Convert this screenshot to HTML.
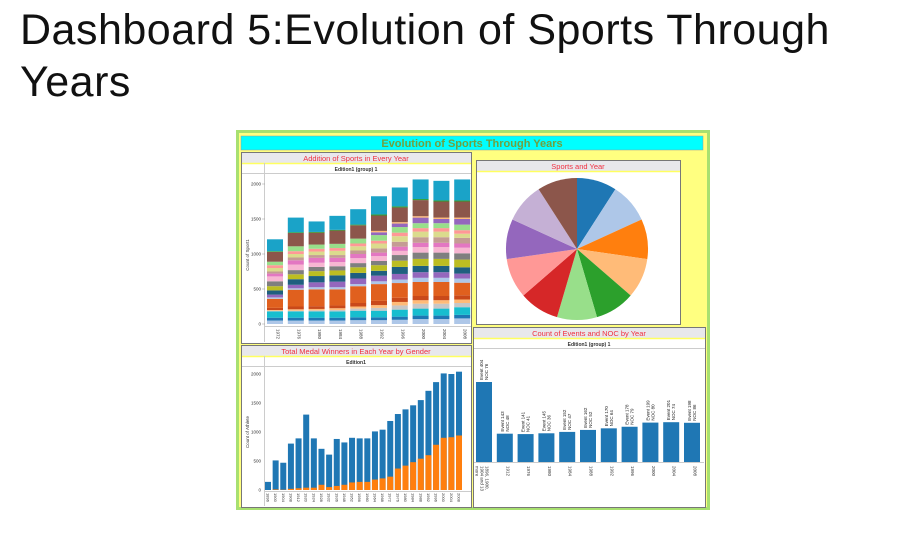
<!DOCTYPE html>
<html><head><meta charset="utf-8">
<style>
body{margin:0;background:#fff;width:919px;height:540px;overflow:hidden;font-family:"Liberation Sans",sans-serif}
#t{position:absolute;left:20px;top:4px;font-size:43px;line-height:52px;color:#111;font-weight:normal;letter-spacing:0.5px}
svg{position:absolute;left:0;top:0}
</style></head><body>
<div id="t">Dashboard 5:Evolution of Sports Through<br>Years</div>
<svg id="s" width="919" height="540"></svg>
<script>
// ---- data: stacked sports chart ----
const sportYears=[1972,1976,1980,1984,1988,1992,1996,2000,2004,2008];
const sportColors=["#aec7e8","#1f77b4","#17becf","#c7c7c7","#ffbb78","#c9491a","#e0601e","#aec7e8","#9467bd","#1f5f7f","#bcbd22","#7f7f7f","#f7b6d2","#e377c2","#c49c94","#dbdb8d","#ff9896","#98df8a","#9467bd","#ffbb78","#8c564b","#2ca02c","#1aa3c8"];
const sportSeries=[
[50,50,50,50,55,55,60,70,70,80],
[40,40,40,40,40,40,45,50,50,50],
[90,90,90,90,95,95,100,100,100,110],
[10,10,15,20,30,40,60,70,70,60],
[10,20,20,25,30,40,50,50,50,50],
[30,40,40,40,50,60,60,60,60,60],
[130,240,240,230,240,240,210,200,200,180],
[20,20,30,30,30,40,50,60,60,60],
[40,50,70,80,80,80,80,80,80,70],
[60,80,90,90,80,70,100,90,90,90],
[60,70,70,70,80,80,90,100,100,110],
[70,60,60,60,60,60,80,90,90,90],
[70,80,60,60,70,70,60,80,80,80],
[40,60,70,60,60,50,60,60,60,60],
[30,40,40,40,50,60,70,80,80,80],
[50,50,50,60,60,70,80,80,80,60],
[40,40,40,40,40,40,50,50,50,50],
[50,70,60,60,70,80,80,70,70,80],
[0,0,0,0,0,40,50,80,60,80],
[0,0,0,0,0,20,20,20,20,20],
[140,190,170,190,190,220,210,230,230,230],
[10,10,10,10,10,15,15,15,15,15],
[170,210,150,200,220,260,270,280,280,300]];
const sportTicks=[0,500,1000,1500,2000];
// ---- data: medal winners ----
const medalYears=[1896,1900,1904,1908,1912,1920,1924,1928,1932,1936,1948,1952,1956,1960,1964,1968,1972,1976,1980,1984,1988,1992,1996,2000,2004,2008];
const medalTotal=[140,510,470,800,890,1300,890,710,610,880,820,900,890,890,1010,1040,1190,1310,1390,1460,1550,1710,1860,2010,2000,2040];
const medalWomen=[0,10,5,20,30,40,40,90,50,70,90,130,140,140,180,200,230,370,420,480,540,600,780,900,910,940];
const medalTicks=[0,500,1000,1500,2000];
// ---- data: events ----
const evYears=["1896, 1900, 1904 and 13 more","1912","1976","1980","1984","1988","1992","1996","2000","2004","2008"];
const evCount=[404,143,141,145,152,162,170,178,199,201,198];
const evNoc=[76,48,41,36,47,52,64,79,80,74,86];
// ---- data: pie ----
const pieSports=["Sport 1","Sport 2","Sport 3","Sport 4","Sport 5","Sport 6","Sport 7","Sport 8","Sport 9","Sport 10","Sport 11"];
const pieValues=[1,1,1,1,1,1,1,1,1,1,1];
const pieColors=["#1f77b4","#aec7e8","#ff7f0e","#ffbb78","#2ca02c","#98df8a","#d62728","#ff9896","#9467bd","#c5b0d5","#8c564b"];

const S=document.getElementById('s');const NS="http://www.w3.org/2000/svg";
function el(tag,a,txt,p){const e=document.createElementNS(NS,tag);for(const k in a)e.setAttribute(k,a[k]);if(txt!=null)e.textContent=txt;(p||S).appendChild(e);return e;}

let e=el('rect',{x:237.5,y:131.5,width:471,height:377,fill:'#ffff80',stroke:'#a8e070','stroke-width':3});

e=el('rect',{x:241,y:136,width:462,height:14,fill:'#00ffff',stroke:'#999','stroke-width':0.5});

e=el('text',{x:472,y:147,'text-anchor':'middle','font-size':11,'font-weight':'bold',fill:'#70a040'},'Evolution of Sports Through Years');


function panel(x,y,w,h,title,sub,name){
 let r=el('rect',{x:x+.5,y:y+.5,width:w,height:h,fill:'#fff',stroke:'#777'});
 
 el('rect',{x:x+1,y:y+1,width:w-1,height:10,fill:'#e8e8ec'});
 el('line',{x1:x+1,x2:x+w,y1:y+11.5,y2:y+11.5,stroke:'#ffff60','stroke-width':1.5});
 let t=el('text',{x:x+w/2,y:y+9,'text-anchor':'middle','font-size':7.5,fill:'#f03040'},title);
 
 if(sub){let s2=el('text',{x:x+w/2,y:y+19,'text-anchor':'middle','font-size':5,fill:'#333','font-weight':'bold'},sub);
 
 el('line',{x1:x+1,x2:x+w,y1:y+21.5,y2:y+21.5,stroke:'#ccc'});}
}

panel(241,152,230,191,'Addition of Sports in Every Year','Edition1 (group) 1','sports-panel');
{const y0=324,py=(v)=>y0-v*(140/2000),px=(i)=>267+i*20.8,bw=16;
 el('line',{x1:264.5,x2:264.5,y1:163,y2:342,stroke:'#ccc'});
 sportTicks.forEach(t=>{el('line',{x1:262,x2:265,y1:py(t),y2:py(t),stroke:'#999','stroke-width':.5});
  const tx=el('text',{x:261,y:py(t)+1.5,'text-anchor':'end','font-size':4.5,fill:'#333'},t);
  });
 const yl=el('text',{x:0,y:0,transform:'translate(249,255) rotate(-90)','text-anchor':'middle','font-size':4.5,fill:'#333'},'Count of Sport1');
 
 el('line',{x1:265,x2:471,y1:326.5,y2:326.5,stroke:'#ccc'});
 sportYears.forEach((yr,i)=>{let acc=0;
  sportSeries.forEach((ser,k)=>{const v=ser[i];if(!v)return;
   const r=el('rect',{x:px(i),y:py(acc+v),width:bw,height:py(acc)-py(acc+v),fill:sportColors[k]});
   acc+=v;});
  const lt=el('text',{x:0,y:0,transform:`translate(${px(i)+bw/2+1.5},329) rotate(90)`,'font-size':4.5,fill:'#333'},yr);
  });
}

panel(476,160,204,164,'Sports and Year',null,'pie-panel');
{const cx=577,cy=249,R=71,tot=pieValues.reduce((a,b)=>a+b,0);let a0=0;
 pieValues.forEach((v,i)=>{const a1=a0+v/tot*2*Math.PI;
  const x0=cx+R*Math.sin(a0),y0=cy-R*Math.cos(a0),x1=cx+R*Math.sin(a1),y1=cy-R*Math.cos(a1);
  const p=el('path',{d:`M${cx},${cy}L${x0},${y0}A${R},${R} 0 ${a1-a0>Math.PI?1:0} 1 ${x1},${y1}Z`,fill:pieColors[i]});
  a0=a1;});
}

panel(241,345,230,162,'Total Medal Winners in Each Year by Gender','Edition1','medal-panel');
{const y0=490,py=(v)=>y0-v*(116/2000),px=(i)=>265+i*7.64,bw=6;
 el('line',{x1:264.5,x2:264.5,y1:356,y2:506,stroke:'#ccc'});
 medalTicks.forEach(t=>{const tx=el('text',{x:261,y:py(t)+1.5,'text-anchor':'end','font-size':4.5,fill:'#333'},t);
  });
 const yl=el('text',{x:0,y:0,transform:'translate(249,432) rotate(-90)','text-anchor':'middle','font-size':4.5,fill:'#333'},'Count of Athlete');
 
 el('line',{x1:265,x2:471,y1:491.5,y2:491.5,stroke:'#ccc'});
 medalYears.forEach((yr,i)=>{
  let r=el('rect',{x:px(i),y:py(medalTotal[i]),width:bw,height:y0-py(medalTotal[i]),fill:'#1f77b4'});
  
  r=el('rect',{x:px(i),y:py(medalWomen[i]),width:bw,height:y0-py(medalWomen[i]),fill:'#ff7f0e'});
  
  const lt=el('text',{x:0,y:0,transform:`translate(${px(i)+1.5},493) rotate(90)`,'font-size':4,fill:'#333'},yr);
  });
}

panel(473,327,232,180,'Count of Events and NOC by Year','Edition1 (group) 1','events-panel');
{const y0=462,py=(v)=>y0-v*(80/404),px=(i)=>476+i*20.8,bw=16;
 el('line',{x1:474,x2:704,y1:462.5,y2:462.5,stroke:'#ccc'});
 evCount.forEach((v,i)=>{
  const r=el('rect',{x:px(i),y:py(v),width:bw,height:y0-py(v),fill:'#1f77b4'});
  
  const lb=el('text',{x:0,y:0,transform:`translate(${px(i)+7},${py(v)-2}) rotate(-90)`,'font-size':4.5,fill:'#222'});
  
  el('tspan',{x:0,dy:0},'Event '+v,lb);el('tspan',{x:0,dy:5},'NOC '+evNoc[i],lb);
  const lt=el('text',{x:0,y:0,transform:`translate(${px(i)+bw/2+1.5},466) rotate(90)`,'font-size':4.5,fill:'#333'},evYears[i].length>6?'1896, 1900,':evYears[i]);
  
  if(evYears[i].length>6){const l2=el('text',{x:0,y:0,transform:`translate(${px(i)+bw/2-3.5},466) rotate(90)`,'font-size':4.5,fill:'#333'},'1904 and 13');
   
   const l3=el('text',{x:0,y:0,transform:`translate(${px(i)+bw/2-8.5},466) rotate(90)`,'font-size':4.5,fill:'#333'},'more');
   }
 });
}
</script>
</body></html>
